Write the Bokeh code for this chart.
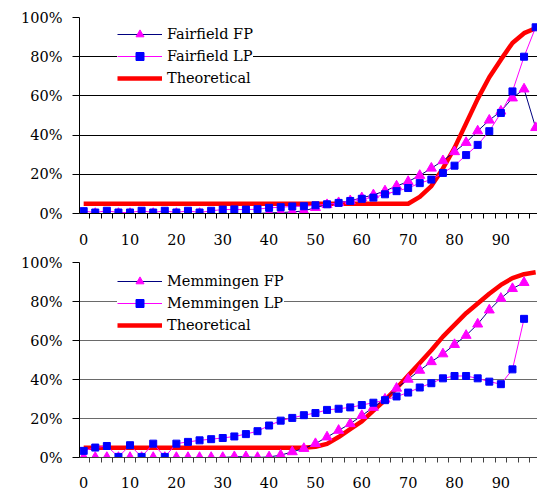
from bokeh.plotting import figure
from bokeh.models import (ColumnDataSource, Range1d, FixedTicker, PrintfTickFormatter,
                          Legend, LegendItem)
from bokeh.layouts import column
from bokeh.embed import file_html
from bokeh.resources import INLINE

NAN = float("nan")

# ---- data -----------------------------------------------------------------
categories = [0, 2.5, 5, 7.5, 10, 12.5, 15, 17.5, 20, 22.5, 25, 27.5, 30, 32.5,
              35, 37.5, 40, 42.5, 45, 47.5, 50, 52.5, 55, 57.5, 60, 62.5, 65,
              67.5, 70, 72.5, 75, 77.5, 80, 82.5, 85, 87.5, 90, 92.5, 95, 97.5]
x_tick_labels = [0, 10, 20, 30, 40, 50, 60, 70, 80, 90]
y_ticks = [0, 20, 40, 60, 80, 100]

fairfield_fp = [0, 0, 0, 0, 0, 0, 0, 0, 0, 0, 0, 0, 0, 0, 0, 0, 0.3, 0.5, 0.8,
                1.3, 3.0, 4.5, 5.5, 6.5, 8.0, 9.5, 11.5, 14.0, 16.3, 19.4, 23.1,
                26.9, 31.5, 36.2, 42.1, 47.6, 52.2, 58.9, 63.5, 43.8]
fairfield_lp = [1.2, 0.5, 1.4, 0.5, 0.5, 1.4, 0.5, 1.4, 0.5, 1.4, 0.5, 1.4, 2.0,
                2.1, 2.0, 2.2, 2.9, 3.2, 3.6, 3.7, 4.2, 4.7, 5.4, 6.4, 7.5, 8.1,
                9.8, 11.4, 13.0, 15.5, 17.3, 20.7, 24.4, 29.8, 35.0, 42.0, 51.3,
                62.3, 80.0, 95.0]
fairfield_theoretical = [5, 5, 5, 5, 5, 5, 5, 5, 5, 5, 5, 5, 5, 5, 5, 5, 5, 5, 5,
                         5, 5, 5, 5, 5, 5, 5, 5, 5, 5, 8.5, 14, 23, 33.5, 46, 58.5,
                         69.5, 78.5, 87, 92, 94.5]

memmingen_fp = [0, 0, 0, 0, 0, 0, 0, 0, 0, 0, 0, 0, 0, 0.4, 0.4, 0, 0.3, 1.2,
                2.9, 4.6, 7.1, 10.5, 13.9, 17.3, 21.5, 25.7, 29.9, 35.5, 40.1,
                44.7, 49.1, 53.1, 57.9, 62.6, 68.4, 75.6, 81.6, 86.6, 89.7, NAN]
memmingen_lp = [3.4, 5.1, 5.9, 0.3, 6.3, 0.3, 7.1, 0.3, 7.1, 8.0, 8.8, 9.4, 10.0,
                10.8, 12.0, 13.5, 16.4, 18.9, 20.3, 21.7, 22.8, 24.4, 25.0, 25.7,
                26.9, 28.1, 29.4, 31.3, 33.3, 35.9, 38.1, 40.6, 41.8, 41.8, 40.6,
                38.9, 37.6, 45.2, 71.1, NAN]
memmingen_theoretical = [5, 5, 5, 5, 5, 5, 5, 5, 5, 5, 5, 5, 5, 5, 5, 5, 5, 5,
                         5, 5, 5.5, 7, 10.5, 14.5, 18.5, 24, 29.5, 35.5, 42, 48.5,
                         55, 62, 68, 74, 79, 84, 88.5, 92, 94, 95]

# tick marks sit between categories
x_minor_ticks = [c + 1.25 for c in categories]

FONT = "DejaVu Serif"
FS = "14.5px"


def make_chart(fp, lp, theo, fp_name, lp_name, height, top, frame_h, standoff,
               legend_xy, grid_color, axis_color):
    bottom = height - top - frame_h
    p = figure(width=537, height=height, output_backend="svg", toolbar_location=None,
               x_range=Range1d(-0.9, 97.9), y_range=Range1d(0, 100),
               min_border_left=79, min_border_right=0, min_border_top=top,
               min_border_bottom=bottom, outline_line_color=None,
               background_fill_color="white", border_fill_color="white")
    src = ColumnDataSource(dict(x=categories, fp=fp, lp=lp, theo=theo))

    r_theo = p.line("x", "theo", source=src, line_color="#FF0000", line_width=4.5,
                    line_join="round")
    r_fp_line = p.line("x", "fp", source=src, line_color="#000080", line_width=1)
    r_fp_mark = p.scatter("x", "fp", source=src, marker="triangle", size=10,
                          fill_color="#FF00FF", line_color="#FF00FF")
    r_lp_line = p.line("x", "lp", source=src, line_color="#FF00FF", line_width=1)
    r_lp_mark = p.scatter("x", "lp", source=src, marker="square", size=7,
                          fill_color="#0000FF", line_color="#0000FF")

    xa = p.xaxis[0]
    xa.ticker = FixedTicker(ticks=x_tick_labels, minor_ticks=x_minor_ticks)
    xa.major_tick_out = 0
    xa.major_tick_in = 0
    xa.minor_tick_out = 5
    xa.minor_tick_in = 0
    xa.major_label_standoff = standoff
    xa.axis_line_color = axis_color
    xa.minor_tick_line_color = axis_color
    xa.major_label_text_font = FONT
    xa.major_label_text_font_size = FS
    xa.major_label_text_color = "black"

    ya = p.yaxis[0]
    ya.ticker = FixedTicker(ticks=y_ticks)
    ya.formatter = PrintfTickFormatter(format="%d%%")
    ya.major_tick_out = 7
    ya.major_tick_in = 0
    ya.minor_tick_out = 0
    ya.minor_tick_in = 0
    ya.major_label_standoff = 10
    ya.axis_line_color = "black"
    ya.major_tick_line_color = "black"
    ya.major_label_text_font = FONT
    ya.major_label_text_font_size = FS
    ya.major_label_text_color = "black"

    p.xgrid.visible = False
    p.ygrid.grid_line_color = grid_color
    p.ygrid.grid_line_width = 1

    legend = Legend(items=[LegendItem(label=fp_name, renderers=[r_fp_line, r_fp_mark]),
                           LegendItem(label=lp_name, renderers=[r_lp_line, r_lp_mark]),
                           LegendItem(label="Theoretical", renderers=[r_theo])],
                    location=legend_xy, glyph_width=45, glyph_height=20,
                    label_height=20, spacing=2, padding=5, margin=0,
                    label_standoff=5, border_line_color=None,
                    background_fill_color="white", background_fill_alpha=1.0,
                    label_text_font=FONT, label_text_font_size=FS,
                    label_text_color="black")
    p.add_layout(legend)
    return p


p_top = make_chart(fairfield_fp, fairfield_lp, fairfield_theoretical,
                   "Fairfield FP", "Fairfield LP", height=247, top=17, frame_h=198,
                   standoff=15, legend_xy=(38, 125), grid_color="black",
                   axis_color="black")
p_bot = make_chart(memmingen_fp, memmingen_lp, memmingen_theoretical,
                   "Memmingen FP", "Memmingen LP", height=243, top=15, frame_h=197,
                   standoff=14, legend_xy=(38, 122), grid_color="#6a6a6a",
                   axis_color="#404040")

layout = column(p_top, p_bot, spacing=0)
open("out.html", "w").write(file_html(layout, INLINE))
